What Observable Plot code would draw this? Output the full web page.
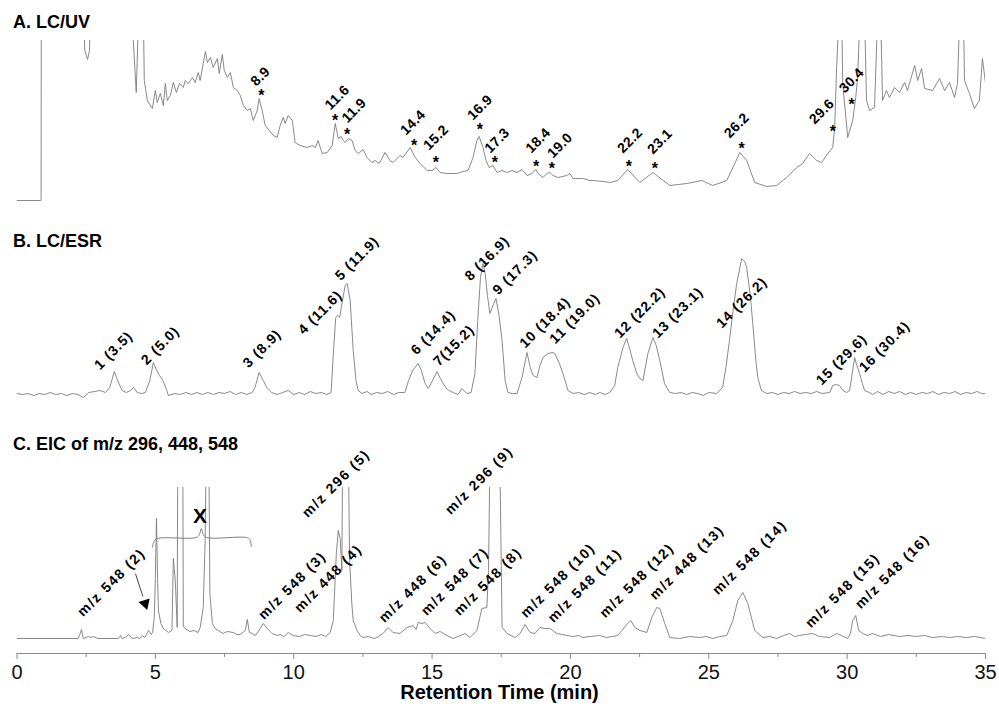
<!DOCTYPE html>
<html><head><meta charset="utf-8">
<script src="https://cdn.jsdelivr.net/npm/d3@7"></script>
<script src="https://cdn.jsdelivr.net/npm/@observablehq/plot@0.6"></script>
<style>
body{margin:0;background:#fff;}
#chart{position:relative;width:999px;height:704px;background:#fff;font-family:"Liberation Sans",Arial,sans-serif;overflow:hidden;}
#chart svg{position:absolute;left:0;overflow:visible;}
.title{position:absolute;left:13px;font-weight:bold;font-size:18px;line-height:18px;color:#000;white-space:nowrap;}
.xtitle{position:absolute;left:0;width:999px;text-align:center;font-weight:bold;font-size:20px;line-height:20px;color:#000;}
</style></head><body><div id="chart"></div>
<script>
// ---------- DATA (retention time in min, detector signal in arbitrary units) ----------
const panelTitles = ["A. LC/UV", "B. LC/ESR", "C. EIC of m/z 296, 448, 548"];
const axisTitle = "Retention Time (min)";
const xTicks = [0, 5, 10, 15, 20, 25, 30, 35];
const xMinorTicks = [2.5, 7.5, 12.5, 17.5, 22.5, 27.5, 32.5];

// A. LC/UV trace [time, absorbance]  (values above 160 run off the top)
const uvTrace = [[0,0],[0.85,0],[0.87,0],[0.88,220],[2.38,220],[2.45,150],[2.55,141],[2.62,150],[2.68,220],
[4.08,220],[4.31,108],[4.43,220],[4.55,220],[4.60,120],[4.71,100],[4.89,92],[5.00,110],[5.07,98],[5.18,107],[5.29,95],
[5.36,117],[5.43,100],[5.54,105],[5.65,118],[5.76,108],[5.87,117],[6.01,113],[6.08,120],[6.19,117],[6.34,123],[6.44,118],
[6.55,128],[6.62,120],[6.73,137],[6.81,149],[6.88,138],[6.99,143],[7.09,133],[7.24,142],[7.31,127],[7.42,146],[7.49,130],
[7.60,123],[7.71,128],[7.82,113],[7.96,110],[8.07,105],[8.18,95],[8.32,90],[8.43,92],[8.54,80],[8.68,90],[8.75,102],
[8.86,90],[8.97,75],[9.12,70],[9.26,65],[9.40,63],[9.51,75],[9.62,83],[9.69,77],[9.80,85],[9.95,80],[10.05,58],[10.23,55],
[10.49,53],[10.67,55],[10.78,53],[10.88,60],[11.03,47],[11.21,48],[11.39,55],[11.50,77],[11.61,62],[11.72,64],[11.79,60],[11.86,58],
[11.97,62],[12.11,60],[12.22,50],[12.33,47],[12.51,51],[12.65,43],[12.83,38],[12.94,40],[13.09,37],[13.30,48],[13.48,40],
[13.59,38],[13.84,45],[13.95,43],[14.21,53],[14.39,43],[14.57,37],[14.82,30],[15.00,30],[15.14,33],[15.29,28],[15.54,27],
[15.90,27],[16.12,29],[16.30,30],[16.48,43],[16.62,60],[16.70,64],[16.84,53],[16.95,40],[17.06,33],[17.20,35],[17.35,28],
[17.53,30],[17.71,28],[17.89,30],[18.07,28],[18.25,31],[18.43,25],[18.61,27],[18.75,31],[18.83,27],[19.01,23],[19.15,27],
[19.26,28],[19.37,25],[19.55,23],[19.87,25],[19.98,27],[20.09,22],[20.45,22],[20.70,20],[20.81,20],[21.17,19],[21.43,18],
[21.71,20],[22.07,31],[22.51,18],[22.98,28],[23.59,15],[24.21,17],[24.75,20],[25.14,15],[25.65,20],[25.94,37],[26.12,48],
[26.37,40],[26.66,18],[27.09,14],[27.45,15],[27.82,23],[28.18,33],[28.39,37],[28.64,47],[28.90,40],[29.08,38],[29.30,47],
[29.48,53],[29.55,73],[29.62,133],[29.73,200],[29.80,200],[29.84,117],[30.02,63],[30.20,80],[30.31,103],[30.38,123],
[30.48,200],[30.62,200],[30.70,100],[30.81,90],[30.99,93],[31.12,200],[31.20,200],[31.28,100],[31.42,110],[31.53,103],
[31.71,113],[31.89,108],[32.08,118],[32.18,110],[32.44,135],[32.55,120],[32.69,132],[32.80,112],[33.09,110],[33.34,122],
[33.52,110],[33.70,118],[33.88,103],[33.99,117],[34.08,200],[34.20,200],[34.24,120],[34.42,107],[34.60,92],[34.78,100],
[34.89,142],[35.00,117]];
const uvPeakLabels = ["8.9","11.6","11.9","14.4","15.2","16.9","17.3","18.4","19.0","22.2","23.1","26.2","29.6","30.4"];
const uvStarTime  = [8.83,11.50,11.93,14.35,15.14,16.73,17.27,18.76,19.33,22.11,23.05,26.19,29.48,30.16];
const uvStarLevel = [109,84,70,59,42,75,42,38,36,38,36,56,73,100];
const uvLabelTime = [8.79,11.57,12.18,14.31,15.14,16.73,17.35,18.83,19.62,22.15,23.23,26.01,29.08,30.16];
const uvLabelLevel = [124,103,90,78,63,93,60,60,55,60,59,75,89,120];

// B. LC/ESR trace [time, ESR intensity]
const esrTrace = [[0.0,2],[0.2,1],[0.4,2],[0.6,0],[0.8,2],[1.0,1],[1.2,3],[1.4,1],[1.6,2],[1.8,0],[2.0,2],[2.2,1],[2.4,-2],
[2.6,3],[2.8,4],[3.0,5],[3.2,3],[3.35,8],[3.52,24],[3.65,14],[3.8,5],[3.95,3],[4.1,5],[4.21,8],[4.35,3],[4.5,2],[4.64,3],
[4.8,15],[4.93,33],[5.05,25],[5.15,20],[5.29,14],[5.4,6],[5.47,0],[5.7,2],[5.9,1],[6.1,3],[6.3,1],[6.5,3],[6.7,1],[6.9,3],
[7.1,1],[7.3,3],[7.5,2],[7.7,4],[7.9,1],[8.1,3],[8.3,1],[8.5,3],[8.6,8],[8.75,23],[8.9,15],[9.03,8],[9.2,3],[9.4,1],[9.6,3],
[9.8,5],[10.0,1],[10.2,3],[10.4,1],[10.6,4],[10.8,2],[11.0,3],[11.2,1],[11.35,3],[11.45,50],[11.52,78],[11.6,80],[11.66,78],
[11.72,88],[11.86,110],[11.93,112],[12.04,95],[12.15,45],[12.25,15],[12.33,5],[12.47,2],[12.65,4],[12.8,1],[13.0,3],[13.2,2],
[13.4,4],[13.6,1],[13.8,3],[14.02,3],[14.15,15],[14.3,25],[14.49,32],[14.6,26],[14.75,12],[14.86,7],[15.0,14],[15.18,24],
[15.3,17],[15.4,12],[15.55,6],[15.76,3],[15.94,1],[16.08,7],[16.26,2],[16.41,3],[16.55,22],[16.65,75],[16.75,118],[16.84,132],
[16.92,122],[17.0,100],[17.09,82],[17.2,90],[17.31,97],[17.42,80],[17.53,55],[17.64,15],[17.74,3],[17.9,2],[18.07,2],[18.25,18],
[18.43,43],[18.55,28],[18.65,20],[18.79,18],[18.9,30],[19.01,38],[19.19,42],[19.35,43],[19.44,42],[19.6,32],[19.73,22],[19.91,5],
[20.1,2],[20.3,3],[20.5,1],[20.7,3],[20.9,1],[21.06,3],[21.25,1],[21.42,3],[21.6,10],[21.71,28],[21.9,48],[22.03,57],[22.15,46],
[22.25,35],[22.4,22],[22.51,17],[22.62,15],[22.8,42],[22.98,58],[23.1,50],[23.23,35],[23.4,12],[23.59,3],[23.8,2],[24.0,3],
[24.2,1],[24.4,3],[24.6,2],[24.8,0],[25.0,3],[25.29,2],[25.5,8],[25.63,30],[25.76,58],[25.9,90],[26.01,112],[26.19,137],
[26.3,134],[26.37,128],[26.5,100],[26.59,72],[26.7,35],[26.77,18],[26.9,5],[27.09,2],[27.3,3],[27.5,1],[27.7,3],[27.9,2],
[28.1,4],[28.3,2],[28.5,3],[28.7,2],[28.9,4],[29.1,2],[29.37,3],[29.48,10],[29.6,11],[29.73,10],[29.85,5],[29.98,3],[30.09,5],
[30.2,25],[30.27,38],[30.35,30],[30.45,22],[30.55,12],[30.63,5],[30.8,3],[30.92,1],[31.1,4],[31.3,1],[31.5,4],[31.7,2],[31.9,4],
[32.1,1],[32.3,3],[32.5,1],[32.7,3],[32.9,2],[33.1,4],[33.3,1],[33.5,3],[33.7,2],[33.9,4],[34.1,1],[34.3,3],[34.5,2],[34.7,4],
[34.85,2],[35.0,2]];
const esrPeakLabels = ["1 (3.5)","2 (5.0)","3 (8.9)","4 (11.6)","5 (11.9)","6 (14.4)","7(15.2)","8 (16.9)","9 (17.3)",
"10 (18.4)","11 (19.0)","12 (22.2)","13 (23.1)","14 (26.2)","15 (29.6)","16 (30.4)"];
const esrLabelTime = [3.49,5.18,8.86,10.96,12.29,15.04,15.79,16.99,18.0,19.08,20.16,22.51,23.88,26.19,29.80,31.35];
const esrLabelLevel = [45,50,47,83,137,63,50,137,123,73,77,83,83,93,36,49];

// C. Extracted ion chromatogram [time, ion counts]  (values above 151 run off the top)
const eicTrace = [[0,0],[2.2,0],[2.27,4],[2.33,9],[2.4,0],[2.5,1],[2.58,2],[2.68,1],[2.76,2],[2.91,0],[3.3,0],[3.66,0],[3.74,3],
[3.8,0],[3.92,1],[4.03,4],[4.12,1],[4.2,0],[4.35,1],[4.45,0],[4.53,3],[4.62,1],[4.75,8],[4.85,4],[4.9,6],[4.96,21],[5.0,60],
[5.04,120],[5.08,60],[5.11,28],[5.2,15],[5.29,10],[5.47,6],[5.6,8],[5.65,80],[5.72,58],[5.79,11],[5.81,200],[5.99,200],
[6.01,12],[6.07,10],[6.25,7],[6.4,8],[6.54,6],[6.62,11],[6.73,31],[6.8,98],[6.84,200],[6.93,200],[6.97,45],[7.06,15],[7.16,10],
[7.27,8],[7.45,5],[7.6,7],[7.82,6],[7.95,4],[8.07,4],[8.25,8],[8.32,19],[8.4,6],[8.5,5],[8.61,3],[8.79,10],[8.9,15],[9.04,10],
[9.22,5],[9.4,3],[9.51,4],[9.65,2],[9.8,6],[9.98,3],[10.2,2],[10.4,4],[10.6,3],[10.8,2],[11.0,4],[11.15,2],[11.32,6],[11.43,18],
[11.54,85],[11.61,108],[11.68,100],[11.74,68],[11.77,200],[11.97,200],[12.02,78],[12.1,35],[12.15,18],[12.29,8],[12.4,3],
[12.51,1],[12.7,2],[12.9,0],[13.01,1],[13.23,5],[13.41,11],[13.59,6],[13.84,5],[14.1,11],[14.32,13],[14.42,9],[14.5,16],
[14.64,15],[14.75,16],[14.93,10],[15.11,5],[15.29,7],[15.54,3],[15.76,0],[15.94,2],[16.19,5],[16.37,1],[16.62,8],[16.8,30],
[16.98,31],[17.04,68],[17.1,200],[17.44,200],[17.53,11],[17.71,5],[18.0,1],[18.18,5],[18.36,14],[18.54,6],[18.72,5],[18.9,11],
[19.08,10],[19.26,10],[19.51,5],[19.7,4],[19.87,3],[20.1,2],[20.3,3],[20.45,1],[20.7,2],[21.06,3],[21.3,1],[21.53,2],[21.7,3],
[21.86,8],[22.0,13],[22.18,18],[22.33,11],[22.51,8],[22.76,6],[22.94,21],[23.12,31],[23.23,30],[23.41,15],[23.59,1],[23.95,0],
[24.3,2],[24.68,1],[24.9,2],[25.14,0],[25.4,2],[25.65,3],[25.87,18],[26.05,38],[26.23,46],[26.41,35],[26.66,8],[26.95,1],
[27.2,2],[27.45,0],[27.7,3],[27.92,5],[28.1,2],[28.28,3],[28.5,4],[28.75,5],[29.0,2],[29.37,1],[29.62,5],[29.8,3],[30.02,0],
[30.12,5],[30.2,18],[30.31,23],[30.42,8],[30.56,5],[30.75,3],[30.92,5],[31.2,2],[31.5,4],[31.89,2],[32.2,3],[32.5,2],[32.8,3],
[33.09,1],[33.4,2],[33.7,1],[34.0,2],[34.31,1],[34.6,2],[35,0]];
const eicPeakLabels = ["m/z 548 (2)","m/z 548 (3)","m/z 448 (4)","m/z 296 (5)","m/z 448 (6)","m/z 548 (7)","m/z 548 (8)",
"m/z 296 (9)","m/z 548 (10)","m/z 548 (11)","m/z 548 (12)","m/z 448 (13)","m/z 548 (14)","m/z 548 (15)","m/z 548 (16)"];
const eicLabelTime = [3.41,9.95,11.25,11.53,14.31,15.83,17.02,16.70,19.55,20.52,22.40,24.21,26.48,29.84,31.64];
const eicLabelLevel = [56,53,60,155,50,57,57,158,58,53,58,76,81,48,67];
// bracket over the interfering peaks, marked "X"
const bracketTime  = [4.89,4.95,5.07,6.48,6.59,6.66,6.73,6.84,8.29,8.41,8.47];
const bracketLevel = [91,97,100,101,104,110,104,101,101,99,92];
const xMark = {t: 6.61, v: 122, text: "X"};
// arrow from label (2) to its peak
const arrowFrom = {t: 4.28, v: 65};
const arrowTo = {t: 4.55, v: 42};
const arrowTip = {t: 4.63, v: 35};

// ---------- DRAWING ----------
const FONT = '"Liberation Sans", Arial, sans-serif';
const chart = document.getElementById("chart");
const common = {width: 999, marginLeft: 16.5, marginRight: 14};
const trace = {x: d => d[0], y: d => d[1], stroke: "#7c7c7c", strokeWidth: 0.9, clip: true};
const labelStyle = {rotate: -45, textAnchor: "middle", lineAnchor: "middle", fontSize: 14, fontWeight: "bold", fontFamily: FONT, fill: "#000"};

function place(svg, top, spacing) {
  svg.style.top = top + "px";
  if (spacing) d3.select(svg).selectAll('g[aria-label="text"] text')
    .filter(function(){ return this.textContent.length > 2; })
    .attr("letter-spacing", spacing);
  chart.appendChild(svg);
}

const uvLab = uvPeakLabels.map((s, i) => ({s, st: uvStarTime[i], sv: uvStarLevel[i], lt: uvLabelTime[i], lv: uvLabelLevel[i]}));
const svgA = Plot.plot({
  ...common, height: 210, marginTop: 40, marginBottom: 5,
  x: {domain: [0, 35], axis: null}, y: {domain: [-5, 160], axis: null},
  style: {background: "none", overflow: "visible", fontFamily: FONT},
  marks: [
    Plot.line(uvTrace, trace),
    Plot.text(uvLab, {x: "st", y: "sv", text: () => "*", fontSize: 16, fontWeight: "bold", fontFamily: FONT, dy: 4, fill: "#000"}),
    Plot.text(uvLab, {x: "lt", y: "lv", text: "s", ...labelStyle})
  ]
});
place(svgA, 0, "0.3px");

const esrLab = esrPeakLabels.map((s, i) => ({s, t: esrLabelTime[i], v: esrLabelLevel[i]}));
const svgB = Plot.plot({
  ...common, height: 190, marginTop: 45, marginBottom: 0,
  x: {domain: [0, 35], axis: null}, y: {domain: [-5, 140], axis: null},
  style: {background: "none", overflow: "visible", fontFamily: FONT},
  marks: [
    Plot.line(esrTrace, trace),
    Plot.text(esrLab, {x: "t", y: "v", text: "s", ...labelStyle})
  ]
});
place(svgB, 210, "1px");

const eicLab = eicPeakLabels.map((s, i) => ({s, t: eicLabelTime[i], v: eicLabelLevel[i]}));
const bracket = bracketTime.map((t, i) => ({t, v: bracketLevel[i]}));
const svgC = Plot.plot({
  ...common, height: 304, marginTop: 87, marginBottom: 51,
  x: {domain: [0, 35], ticks: xTicks, tickSize: 0, tickPadding: 11, label: null},
  y: {domain: [-15, 151], axis: null},
  style: {background: "none", overflow: "visible", fontFamily: FONT, fontSize: "20px", color: "#111"},
  marks: [
    Plot.ruleY([-15], {stroke: "#8a8a8a"}),
    Plot.ruleX(xTicks, {y1: -15, y2: -21, stroke: "#8a8a8a"}),
    Plot.ruleX(xMinorTicks, {y1: -15, y2: -19, stroke: "#8a8a8a"}),
    Plot.line(eicTrace, trace),
    Plot.line(bracket, {x: "t", y: "v", curve: "catmull-rom", stroke: "#808080", strokeWidth: 1}),
    Plot.text([xMark], {x: "t", y: "v", text: "text", fontSize: 21, fontWeight: "bold", fontFamily: FONT, lineAnchor: "middle", fill: "#000"}),
    Plot.link([{...arrowFrom, t2: arrowTo.t, v2: arrowTo.v}], {x1: "t", y1: "v", x2: "t2", y2: "v2", stroke: "#444", strokeWidth: 1}),
    Plot.dot([arrowTip], {x: "t", y: "v", symbol: "triangle2", r: 5.6, fill: "#000", stroke: "none", rotate: 162}),
    Plot.text(eicLab, {x: "t", y: "v", text: "s", ...labelStyle})
  ]
});
place(svgC, 400, "1.6px");

panelTitles.forEach((t, i) => {
  const d = document.createElement("div");
  d.className = "title";
  d.style.top = [13, 232, 435][i] + "px";
  d.textContent = t;
  chart.appendChild(d);
});
const xt = document.createElement("div");
xt.className = "xtitle";
xt.style.top = "682px";
xt.textContent = axisTitle;
chart.appendChild(xt);
</script></body></html>
